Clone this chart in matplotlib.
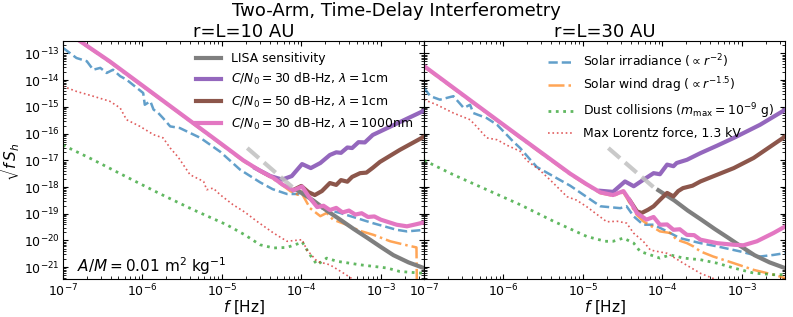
import numpy as np
import matplotlib
matplotlib.use("Agg")
import matplotlib.pyplot as plt

# all values are log10 of the quantity
# frequency f [Hz] -> *_lf, sqrt(f S_h) -> *_lS

# LISA sensitivity (same in both panels), dashed part then solid part
lisa_dash_lf = [-4.68, -4.07]
lisa_dash_lS = [-16.54, -18.11]
lisa_lf = [-4.05, -3.85, -3.68, -3.51, -3.34, -3.17, -3.00, -2.84, -2.65, -2.44]
lisa_lS = [-18.12, -18.50, -18.88, -19.22, -19.57, -19.90, -20.24, -20.55, -20.82, -21.05]

# ---- r = L = 10 AU ----
pink10_lf = [-7.00, -6.79, -6.41, -6.00, -5.50, -5.00, -4.73, -4.52, -4.35, -4.23, -4.10, -3.99,
             -3.90, -3.80, -3.72, -3.64, -3.56, -3.48, -3.40, -3.32, -3.24, -3.16, -3.08, -3.00,
             -2.80, -2.67, -2.55, -2.44]
pink10_lS = [-12.09, -12.53, -13.30, -14.20, -15.30, -16.40, -17.00, -17.39, -17.66, -17.92, -18.12, -17.98,
             -18.38, -18.75, -18.70, -18.86, -18.78, -18.95, -18.88, -19.03, -18.98, -19.12, -19.10, -19.22,
             -19.41, -19.47, -19.39, -19.31]

purple10_lf = [-4.58, -4.39, -4.24, -4.12, -3.99, -3.88, -3.76, -3.64, -3.56, -3.50, -3.42, -3.36,
               -3.28, -3.20, -3.10, -2.76, -2.44]
purple10_lS = [-17.29, -17.59, -17.72, -17.59, -17.14, -17.29, -17.10, -16.80, -16.70, -16.72, -16.52, -16.54,
               -16.32, -16.33, -16.05, -15.57, -15.12]

brown10_lf = [-4.10, -4.00, -3.91, -3.83, -3.74, -3.64, -3.56, -3.50, -3.42, -3.36, -3.26, -3.18,
              -3.10, -3.01, -2.76, -2.44]
brown10_lS = [-18.11, -17.96, -18.19, -18.30, -18.15, -17.85, -17.92, -17.74, -17.80, -17.62, -17.48, -17.46,
              -17.28, -17.06, -16.61, -16.09]

blue10_lf = [-7.00, -6.83, -6.70, -6.62, -6.53, -6.45, -6.37, -6.28, -6.20, -6.07, -5.99, -5.97,
             -5.90, -5.86, -5.80, -5.74, -5.65, -5.53, -5.27, -5.02, -4.77, -4.52, -4.36, -4.18,
             -4.04, -3.99, -3.89, -3.76, -3.51, -3.10, -2.80, -2.67, -2.44]
blue10_lS = [-12.79, -13.17, -13.29, -13.61, -13.54, -13.73, -13.61, -13.85, -13.98, -14.29, -14.48, -14.92,
             -14.79, -15.10, -15.23, -15.42, -15.73, -15.79, -16.16, -16.68, -17.35, -17.82, -18.08, -18.26,
             -18.26, -18.10, -18.48, -18.79, -18.97, -19.35, -19.60, -19.66, -19.60]

orange10_lf = [-7.00, -6.41, -5.50, -4.73, -4.52, -4.35, -4.23, -4.14, -4.04, -4.01, -3.89, -3.76,
               -3.68, -3.60, -3.43, -3.26, -3.09, -2.88, -2.67, -2.55, -2.54]
orange10_lS = [-12.12, -13.33, -15.32, -17.03, -17.42, -17.70, -17.95, -18.15, -18.29, -18.15, -18.79, -19.09,
               -18.97, -19.22, -19.41, -19.64, -19.79, -20.03, -20.18, -20.26, -23.00]

green10_lf = [-7.00, -6.64, -6.20, -5.78, -5.36, -4.94, -4.71, -4.52, -4.35, -4.18, -4.02, -3.99,
              -3.89, -3.80, -3.68, -3.55, -3.39, -3.26, -3.09, -2.92, -2.76, -2.50, -2.44]
green10_lS = [-16.43, -16.95, -17.62, -18.25, -18.85, -19.41, -19.79, -20.16, -20.28, -20.26, -20.10, -20.05,
              -20.54, -20.91, -20.66, -20.78, -20.85, -20.91, -20.97, -21.03, -21.16, -21.22, -21.25]

red10_lf = [-7.00, -6.83, -6.62, -6.41, -6.28, -6.20, -6.03, -5.86, -5.74, -5.65, -5.55, -5.40,
            -5.23, -5.19, -5.11, -5.02, -4.86, -4.71, -4.56, -4.35, -4.18, -3.99, -3.93, -3.80,
            -3.64, -3.47, -3.34, -3.20]
red10_lS = [-14.23, -14.42, -14.60, -14.79, -15.04, -15.48, -15.73, -16.04, -16.16, -16.54, -16.88, -17.54,
            -17.79, -18.10, -18.04, -18.29, -18.66, -18.94, -19.28, -19.72, -20.03, -19.97, -20.35, -20.78,
            -20.91, -21.22, -21.47, -21.80]

# ---- r = L = 30 AU ----
pink30_lf = [-7.00, -6.36, -5.79, -5.45, -5.16, -4.95, -4.78, -4.62, -4.49, -4.41, -4.32, -4.20,
             -4.11, -4.03, -3.94, -3.86, -3.78, -3.69, -3.60, -3.52, -3.31, -3.10, -2.98, -2.81,
             -2.60, -2.45]
pink30_lS = [-13.47, -14.88, -16.13, -16.87, -17.50, -17.90, -18.20, -18.30, -18.15, -18.50, -18.97, -19.22,
             -19.12, -19.41, -19.40, -19.60, -19.58, -19.79, -19.80, -19.97, -20.10, -20.16, -20.18, -20.03,
             -19.72, -19.47]

purple30_lf = [-4.78, -4.62, -4.47, -4.36, -4.24, -4.11, -4.03, -3.94, -3.86, -3.82, -3.69, -3.52,
               -3.31, -3.10, -2.77, -2.45]
purple30_lS = [-18.14, -18.18, -17.79, -17.97, -17.73, -17.48, -17.52, -17.16, -17.22, -17.10, -16.98, -16.73,
               -16.45, -16.16, -15.67, -15.10]

brown30_lf = [-4.41, -4.32, -4.26, -4.18, -4.11, -4.03, -3.94, -3.86, -3.80, -3.74, -3.62, -3.52,
              -3.31, -3.10, -2.85, -2.45]
brown30_lS = [-18.50, -18.91, -18.97, -18.85, -18.72, -18.48, -18.22, -18.35, -18.15, -18.04, -17.95, -17.79,
              -17.54, -17.29, -16.91, -16.10]

blue30_lf = [-7.00, -6.92, -6.80, -6.63, -6.50, -6.42, -6.38, -6.21, -6.08, -5.96, -5.88, -5.79,
             -5.67, -5.58, -5.16, -4.78, -4.53, -4.45, -4.36, -4.24, -4.11, -3.94, -3.78, -3.52,
             -3.31, -3.02, -2.77, -2.60, -2.45]
blue30_lS = [-14.29, -14.60, -14.73, -14.60, -15.04, -14.92, -15.23, -15.42, -15.67, -16.04, -16.29, -16.54,
             -16.95, -17.25, -17.95, -18.72, -18.79, -18.72, -19.10, -19.41, -19.41, -19.66, -19.91, -20.10,
             -20.22, -20.41, -20.60, -20.54, -20.47]

orange30_lf = [-7.00, -6.36, -5.79, -5.45, -5.16, -4.95, -4.78, -4.62, -4.49, -4.41, -4.32, -4.24,
               -4.03, -3.90, -3.82, -3.69, -3.61, -3.52, -3.36, -3.10, -2.85, -2.60, -2.45]
orange30_lS = [-13.50, -14.91, -16.16, -16.90, -17.53, -17.93, -18.23, -18.33, -18.20, -18.60, -19.05, -19.28,
               -19.66, -19.72, -19.97, -20.10, -20.22, -20.41, -20.60, -20.85, -21.10, -21.28, -21.41]

green30_lf = [-7.00, -6.63, -6.21, -5.79, -5.37, -4.95, -4.72, -4.62, -4.49, -4.36, -4.28, -4.15,
              -4.03, -3.90, -3.73, -3.52, -3.31, -3.10, -2.85, -2.60, -2.45]
green30_lS = [-17.00, -17.54, -18.10, -18.66, -19.28, -19.85, -20.03, -20.03, -19.91, -20.10, -20.41, -20.54,
              -20.66, -20.54, -20.66, -20.72, -20.85, -21.03, -21.22, -21.28, -21.28]

red30_lf = [-7.00, -6.84, -6.63, -6.42, -6.34, -6.21, -6.08, -5.96, -5.79, -5.71, -5.55, -5.41,
            -5.20, -5.08, -4.95, -4.70, -4.57, -4.45, -4.36, -4.24, -4.15, -3.94, -3.73, -3.52,
            -3.31, -3.15]
red30_lS = [-14.73, -14.92, -15.23, -15.48, -15.73, -16.16, -16.23, -16.43, -16.66, -17.00, -17.35, -17.74,
            -18.36, -18.49, -18.74, -19.30, -19.28, -19.35, -19.73, -20.03, -20.36, -20.48, -20.86, -21.23,
            -21.48, -21.80]

panel_titles = ["r=L=10 AU", "r=L=30 AU"]
sens_labels = ["LISA sensitivity",
               r"$C/N_0 = 30$ dB-Hz, $\lambda = 1$cm",
               r"$C/N_0 = 50$ dB-Hz, $\lambda = 1$cm",
               r"$C/N_0 = 30$ dB-Hz, $\lambda = 1000$nm"]
noise_labels = [r"Solar irradiance ($\propto r^{-2}$)",
                r"Solar wind drag ($\propto r^{-1.5}$)",
                r"Dust collisions ($m_{\rm max} = 10^{-9}$ g)",
                "Max Lorentz force, 1.3 kV"]

panels = [
    dict(blue=(blue10_lf, blue10_lS), orange=(orange10_lf, orange10_lS),
         green=(green10_lf, green10_lS), red=(red10_lf, red10_lS),
         purple=(purple10_lf, purple10_lS), brown=(brown10_lf, brown10_lS),
         pink=(pink10_lf, pink10_lS)),
    dict(blue=(blue30_lf, blue30_lS), orange=(orange30_lf, orange30_lS),
         green=(green30_lf, green30_lS), red=(red30_lf, red30_lS),
         purple=(purple30_lf, purple30_lS), brown=(brown30_lf, brown30_lS),
         pink=(pink30_lf, pink30_lS)),
]


def xy(pair):
    return 10 ** np.array(pair[0]), 10 ** np.array(pair[1])


fig = plt.figure(figsize=(7.93, 3.17), dpi=100)
ax1 = fig.add_axes([0.0794, 0.120, 0.4552, 0.751])
ax2 = fig.add_axes([0.5347, 0.120, 0.4552, 0.751], sharey=ax1)
axes = [ax1, ax2]

for ax, p, title in zip(axes, panels, panel_titles):
    h_noise = []
    h_noise += ax.plot(*xy(p["blue"]), ls="--", color="tab:blue", alpha=0.7, lw=1.8)
    h_noise += ax.plot(*xy(p["orange"]), ls="-.", color="tab:orange", alpha=0.7, lw=1.8)
    h_noise += ax.plot(*xy(p["green"]), ls=":", color="tab:green", alpha=0.75, lw=2.0)
    h_noise += ax.plot(*xy(p["red"]), ls=":", color="tab:red", alpha=0.75, lw=1.2)

    h_sens = []
    h_sens += ax.plot(*xy((lisa_lf, lisa_lS)), color="tab:gray", lw=3)
    h_sens += ax.plot(*xy(p["purple"]), color="tab:purple", lw=3)
    h_sens += ax.plot(*xy(p["brown"]), color="tab:brown", lw=3)
    h_sens += ax.plot(*xy(p["pink"]), color="tab:pink", lw=3)
    ax.plot(*xy((lisa_dash_lf, lisa_dash_lS)), ls="--", color="silver", alpha=0.85, lw=3)

    ax.set_xscale("log")
    ax.set_yscale("log")
    ax.set_xlim(1e-7, 3.5e-3)
    ax.set_ylim(10 ** -21.44, 10 ** -12.53)
    ax.tick_params(which="both", direction="in", top=True, right=True, labelsize=9, pad=2.5)
    ax.set_xlabel(r"$f$ [Hz]", fontsize=11, labelpad=0)
    ax.set_title(title, fontsize=13, pad=3)

    if ax is ax1:
        ax.legend(h_sens, sens_labels, loc="upper right", frameon=False, fontsize=8.9)
    else:
        ax.legend(h_noise, noise_labels, loc="upper right", frameon=False, fontsize=8.9)

ax2.tick_params(labelleft=False)
ax1.set_ylabel(r"$\sqrt{f\,S_h}$", fontsize=11, labelpad=1)
ax1.text(0.04, 0.03, r"$A/M = 0.01$ m$^2$ kg$^{-1}$", transform=ax1.transAxes, fontsize=11)

fig.suptitle("Two-Arm, Time-Delay Interferometry", fontsize=13, y=0.995)
fig.savefig("out.png", dpi=100)
